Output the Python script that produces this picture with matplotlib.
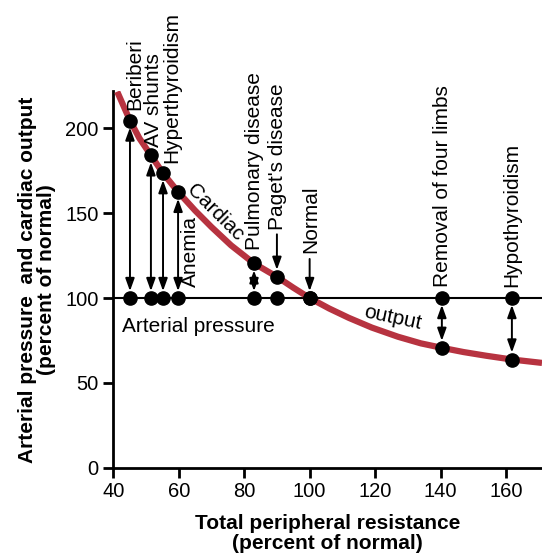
from matplotlib import pyplot as plt
import matplotlib

matplotlib.rc('font', family='Liberation Sans', size=15)

# cardiac output curve (percent of normal)
curve_x = [41.2, 45.1, 48, 51.5, 55.2, 59.8, 65, 70, 76, 83, 90, 95, 100,
           106, 112, 119, 127, 134, 140.4, 147, 154, 161.8, 171]
curve_y = [221.5, 204.5, 194, 184, 173.5, 162.5, 151.5, 141.8, 131, 120.4, 112.5, 106.1, 100,
           93.8, 88.3, 82.6, 77.2, 73.3, 70.7, 68.2, 66, 63.8, 61.8]

# conditions: resistance, cardiac output
cond_names = ['Beriberi', 'AV shunts', 'Hyperthyroidism', 'Anemia',
              'Pulmonary disease', "Paget's disease", 'Normal',
              'Removal of four limbs', 'Hypothyroidism']
cond_x = [45.1, 51.5, 55.2, 59.8, 83, 90, 100, 140.4, 161.8]
cond_y = [204.5, 184, 173.5, 162.5, 120.4, 112.5, 100, 70.7, 63.8]
pressure = 100

# label anchors (center x, bottom y) for the rotated names
lab_x = [46.7, 52.3, 58.0, 63.7, 83, 90.3, 100.3, 140.6, 161.9]
lab_y = [210.8, 189, 179.6, 106.6, 128.4, 140.2, 126.6, 106.6, 106.6]

red = '#b73340'

fig = plt.figure(figsize=(5.42, 5.57), dpi=100)
ax = fig.add_axes([0.209, 0.160, 0.791, 0.677])

ax.axhline(pressure, color='black', lw=1.5, zorder=2)
ax.plot(curve_x, curve_y, color=red, lw=4.5, solid_capstyle='butt',
        solid_joinstyle='round', zorder=3)

ax.plot(cond_x, cond_y, 'o', color='black', ms=9.5, zorder=5)
ax.plot(cond_x, [pressure] * len(cond_x), 'o', color='black', ms=9.5, zorder=5)

arr = dict(arrowstyle='<|-|>,head_length=0.5,head_width=0.18', color='black',
           lw=1.4, shrinkA=5, shrinkB=5)
for i, name in enumerate(cond_names):
    if name in ("Paget's disease", 'Normal'):
        continue
    ax.annotate('', xy=(cond_x[i], cond_y[i]), xytext=(cond_x[i], pressure),
                arrowprops=arr, zorder=4)

one = dict(arrowstyle='-|>,head_length=0.5,head_width=0.18', color='black',
           lw=1.4, shrinkA=0, shrinkB=5)
ax.annotate('', xy=(90, 112.5), xytext=(90, 137.5), arrowprops=one)
ax.annotate('', xy=(100, 100), xytext=(100, 123), arrowprops=one)

for name, lx, ly in zip(cond_names, lab_x, lab_y):
    ax.text(lx, ly, name, rotation=90, ha='center', va='bottom', fontsize=15)

ax.text(42.7, 83, 'Arterial pressure', ha='left', va='center', fontsize=15)
ax.text(71.1, 150.5, 'Cardiac', rotation=-45, ha='center', va='center', fontsize=15)
ax.text(125.3, 88.5, 'output', rotation=-12, ha='center', va='center', fontsize=15)

ax.set_xlim(40, 171)
ax.set_ylim(0, 222)
ax.set_xticks([40, 60, 80, 100, 120, 140, 160])
ax.set_yticks([0, 50, 100, 150, 200])
ax.spines['top'].set_visible(False)
ax.spines['right'].set_visible(False)
for s in ['left', 'bottom']:
    ax.spines[s].set_linewidth(2)
ax.tick_params(direction='out', length=7, width=2, labelsize=14.5)

ax.set_xlabel('Total peripheral resistance\n(percent of normal)',
              fontweight='bold', fontsize=15, linespacing=1.05, labelpad=9)
ax.set_ylabel('Arterial pressure  and cardiac output\n(percent of normal)',
              fontweight='bold', fontsize=15, linespacing=1.0, labelpad=7)

plt.savefig('out.png', dpi=100)
